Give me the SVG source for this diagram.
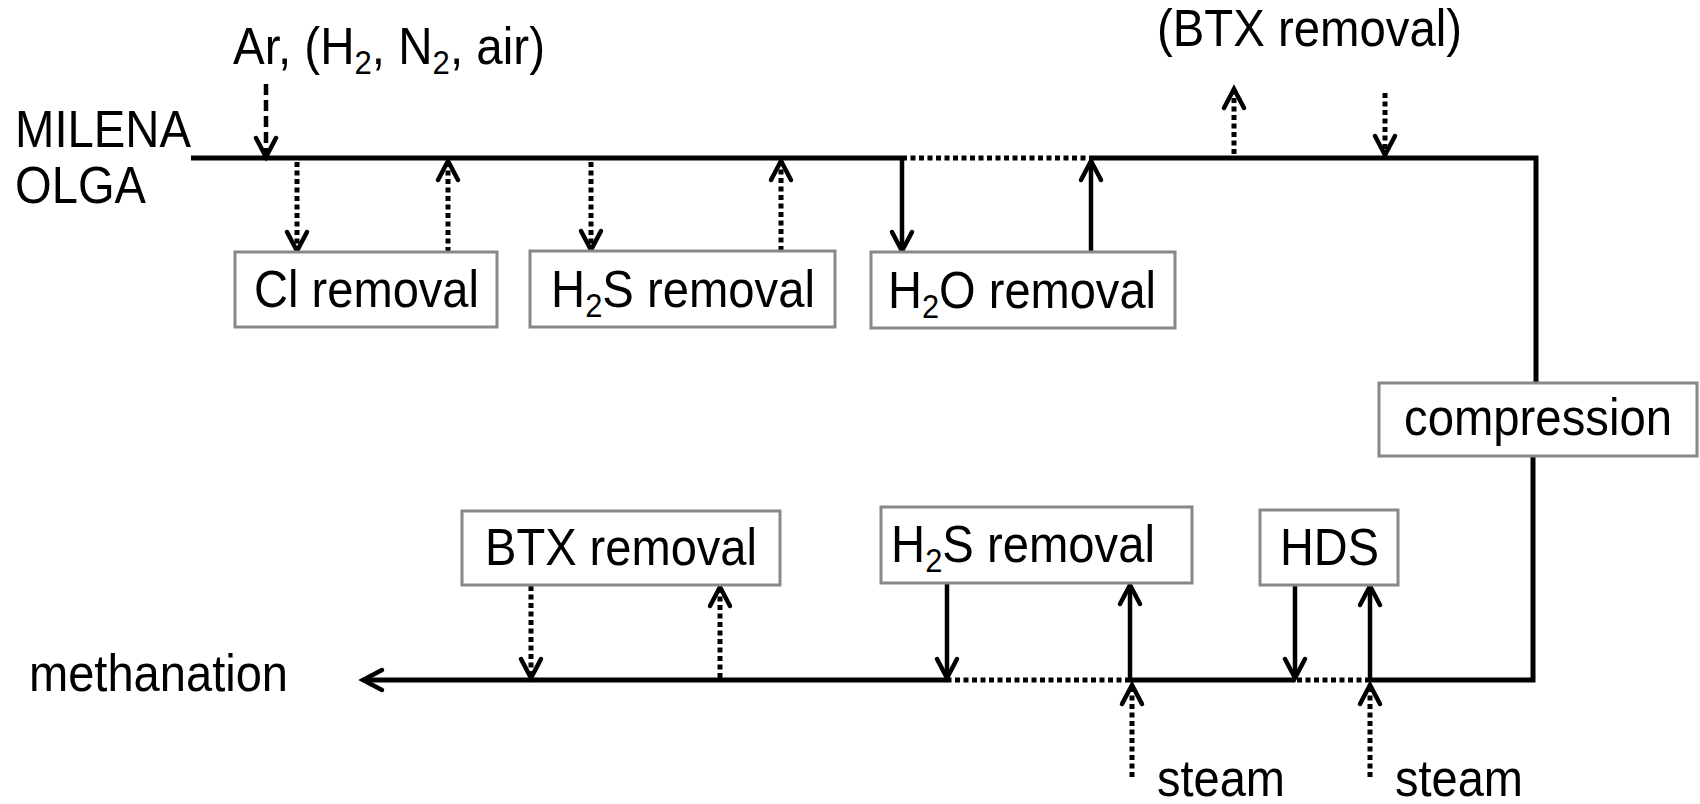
<svg xmlns="http://www.w3.org/2000/svg" width="1700" height="804" viewBox="0 0 1700 804">
<style>
text{font-family:"Liberation Sans",Arial,sans-serif;font-size:52px;fill:#000}
.sub{font-size:34px}
.box{fill:#fff;stroke:#888;stroke-width:3}
.ln{fill:none;stroke:#000;stroke-width:5}
.ar{fill:none;stroke:#000;stroke-width:4.5}
.dot{stroke-width:5;stroke-dasharray:5 3.5}
.dash{stroke-dasharray:11 5}
</style>
<defs>
<marker id="ah" markerUnits="userSpaceOnUse" orient="auto" refX="0" refY="0" viewBox="-24 -14 28 28" markerWidth="28" markerHeight="28" overflow="visible">
<path d="M-19,-10 L0,0 L-19,10" fill="none" stroke="#000" stroke-width="4.5" stroke-linecap="round" stroke-dasharray="none"/>
</marker>
</defs>
<rect width="1700" height="804" fill="#fff"/>
<g id="connectors">
<path class="ln" d="M191,158 H902"/>
<path class="ln dot" d="M902,158 H1091"/>
<path class="ln" d="M1091,158 H1536 V383"/>
<path class="ln" d="M1533,456 V680 H1370"/>
<path class="ln dot" d="M1370,680 H1295"/>
<path class="ln" d="M1295,680 H1130"/>
<path class="ln dot" d="M1130,680 H947"/>
<path class="ln" d="M947,680 H363" marker-end="url(#ah)"/>
<path class="ar dash" d="M266,84 V157" marker-end="url(#ah)"/>
<path class="ar dot" d="M297,162 V251" marker-end="url(#ah)"/>
<path class="ar dot" d="M448,252 V161" marker-end="url(#ah)"/>
<path class="ar dot" d="M591,162 V250" marker-end="url(#ah)"/>
<path class="ar dot" d="M781,251 V161" marker-end="url(#ah)"/>
<path class="ar" d="M902,158 V251" marker-end="url(#ah)"/>
<path class="ar" d="M1091,252 V161" marker-end="url(#ah)"/>
<path class="ar dot" d="M1234,154 V89" marker-end="url(#ah)"/>
<path class="ar dot" d="M1385,93 V155" marker-end="url(#ah)"/>
<path class="ar dot" d="M531,586 V678" marker-end="url(#ah)"/>
<path class="ar dot" d="M720,678 V587" marker-end="url(#ah)"/>
<path class="ar" d="M947,583 V678" marker-end="url(#ah)"/>
<path class="ar" d="M1130,680 V585" marker-end="url(#ah)"/>
<path class="ar dot" d="M1132,777 V685" marker-end="url(#ah)"/>
<path class="ar" d="M1295,585 V678" marker-end="url(#ah)"/>
<path class="ar" d="M1370,680 V586" marker-end="url(#ah)"/>
<path class="ar dot" d="M1370,777 V685" marker-end="url(#ah)"/>
</g>
<g id="label-input"><text x="233" y="64" textLength="312" lengthAdjust="spacingAndGlyphs">Ar, (H<tspan class="sub" dy="10">2</tspan><tspan dy="-10">, N</tspan><tspan class="sub" dy="10">2</tspan><tspan dy="-10">, air)</tspan></text></g>
<g id="label-btx-top"><text x="1157" y="46" textLength="305" lengthAdjust="spacingAndGlyphs">(BTX removal)</text></g>
<g id="label-source"><text x="15" y="147" textLength="176" lengthAdjust="spacingAndGlyphs">MILENA</text><text x="15" y="203" textLength="131" lengthAdjust="spacingAndGlyphs">OLGA</text></g>
<g id="node-cl"><rect class="box" x="235" y="252" width="262" height="75"/><text x="254" y="307" textLength="225" lengthAdjust="spacingAndGlyphs">Cl removal</text></g>
<g id="node-h2s-top"><rect class="box" x="530" y="251" width="305" height="76"/><text x="551" y="307" textLength="264" lengthAdjust="spacingAndGlyphs">H<tspan class="sub" dy="10">2</tspan><tspan dy="-10">S removal</tspan></text></g>
<g id="node-h2o"><rect class="box" x="871" y="252" width="304" height="76"/><text x="888" y="308" textLength="268" lengthAdjust="spacingAndGlyphs">H<tspan class="sub" dy="10">2</tspan><tspan dy="-10">O removal</tspan></text></g>
<g id="node-compression"><rect class="box" x="1379" y="383" width="318" height="73"/><text x="1404" y="435" textLength="268" lengthAdjust="spacingAndGlyphs">compression</text></g>
<g id="node-btx"><rect class="box" x="462" y="511" width="318" height="74"/><text x="485" y="565" textLength="272" lengthAdjust="spacingAndGlyphs">BTX removal</text></g>
<g id="node-h2s-bottom"><rect class="box" x="881" y="507" width="311" height="76"/><text x="891" y="562" textLength="264" lengthAdjust="spacingAndGlyphs">H<tspan class="sub" dy="10">2</tspan><tspan dy="-10">S removal</tspan></text></g>
<g id="node-hds"><rect class="box" x="1260" y="510" width="138" height="75"/><text x="1280" y="565" textLength="99" lengthAdjust="spacingAndGlyphs">HDS</text></g>
<g id="label-methanation"><text x="29" y="691" textLength="259" lengthAdjust="spacingAndGlyphs">methanation</text></g>
<g id="label-steam"><text x="1157" y="796" textLength="128" lengthAdjust="spacingAndGlyphs">steam</text><text x="1395" y="796" textLength="128" lengthAdjust="spacingAndGlyphs">steam</text></g>
</svg>
